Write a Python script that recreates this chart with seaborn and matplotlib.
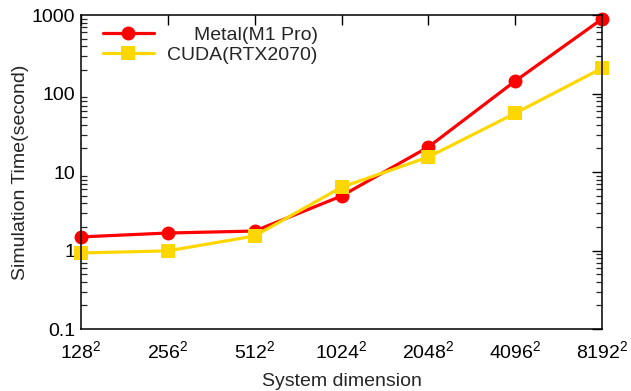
import matplotlib
matplotlib.use("Agg")
import matplotlib.pyplot as plt
import seaborn as sns
import pandas as pd
import numpy as np
from matplotlib.ticker import LogLocator, FixedLocator, NullFormatter

sizes = ["128", "256", "512", "1024", "2048", "4096", "8192"]
metal = [1.49, 1.67, 1.77, 4.95, 20.8, 144, 889]
cuda = [0.93, 0.99, 1.53, 6.4, 15.5, 56, 210]
series_names = ["Metal(M1 Pro)", "CUDA(RTX2070)"]
y_ticks = [0.1, 1, 10, 100, 1000]
y_ticklabels = ["0.1", "1", "10", "100", "1000"]

sns.set_style("white")
plt.rcParams["font.family"] = ["Liberation Sans", "DejaVu Sans"]
plt.rcParams["mathtext.fontset"] = "custom"
plt.rcParams["mathtext.rm"] = "Liberation Sans"
plt.rcParams["mathtext.it"] = "Liberation Sans:italic"

idx = list(range(len(sizes)))
df = pd.DataFrame({
    "x": idx * 2,
    "y": metal + cuda,
    "series": [series_names[0]] * len(sizes) + [series_names[1]] * len(sizes),
})

fig = plt.figure(figsize=(6.31, 3.91), dpi=100)
ax = fig.add_axes([81 / 631, 1 - 329 / 391, (602 - 81) / 631, (329 - 15) / 391])

sns.lineplot(data=df, x="x", y="y", hue="series", style="series",
             palette={series_names[0]: "#ff0000", series_names[1]: "#ffd700"},
             markers={series_names[0]: "o", series_names[1]: "s"},
             dashes=False, sort=False, linewidth=2.3, markersize=10,
             markeredgewidth=0, ax=ax, clip_on=False)

ax.set_yscale("log")
ax.set_ylim(0.1, 1000)
ax.set_xlim(0, 6)
ax.yaxis.set_major_locator(FixedLocator(y_ticks))
ax.set_yticklabels(y_ticklabels)
ax.yaxis.set_minor_locator(LogLocator(base=10, subs=np.arange(2, 10)))
ax.yaxis.set_minor_formatter(NullFormatter())
ax.set_xticks(idx)
ax.set_xticklabels([s + r"$^2$" for s in sizes])

for sp in ax.spines.values():
    sp.set_linewidth(1.1)
    sp.set_color("black")

ax.tick_params(axis="both", which="major", direction="in", length=7, width=1.0,
               labelsize=14, top=True, right=True, colors="black")
ax.tick_params(axis="y", which="major", pad=4)
ax.tick_params(axis="y", which="minor", direction="in", length=4, width=0.9,
               left=True, right=True)
ax.tick_params(axis="x", which="major", pad=8)

ax.set_xlabel("System dimension", fontsize=14, labelpad=8)
ax.set_ylabel("Simulation Time(second)", fontsize=14, labelpad=2)

leg = ax.legend(loc="upper left", bbox_to_anchor=(0.02, 1.0), frameon=False,
                fontsize=14, handlelength=2.6, handletextpad=0.7,
                labelspacing=0.1, borderaxespad=0.2)
fig.canvas.draw()
renderer = fig.canvas.get_renderer()
widths = [t.get_window_extent(renderer).width for t in leg.get_texts()]
shift = max(widths)
for t, w in zip(leg.get_texts(), widths):
    t.set_ha("left")
    t.set_position((shift - w, 0))

fig.savefig("out.png", dpi=100)
